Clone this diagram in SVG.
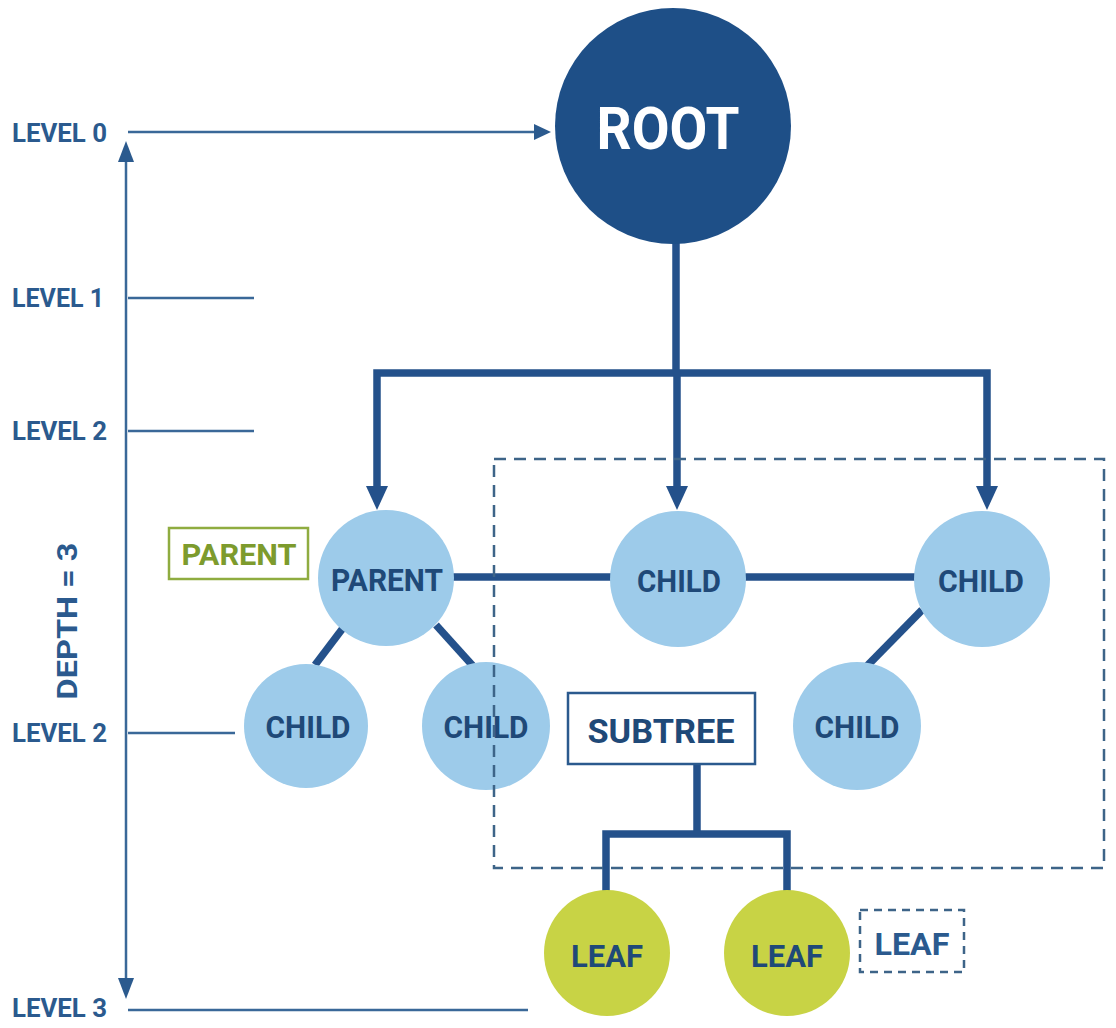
<svg xmlns="http://www.w3.org/2000/svg" width="1116" height="1028" viewBox="0 0 1116 1028">
<style>
  text { font-family: Roboto, "Liberation Sans", sans-serif; font-weight: bold; }
  .lvl { font-size: 25px; fill: #2b5a8e; }
  .lvline { stroke: #3a6898; stroke-width: 2.5; fill: none; }
  .conn { stroke: #24518b; stroke-width: 7.5; fill: none; }
  .light { fill: #9dcbea; }
  .leaf { fill: #c8d345; }
  .ntext { font-size: 32px; fill: #1f4978; text-anchor: middle; }
  .dash { stroke: #3d6488; stroke-width: 2.5; fill: none; stroke-dasharray: 12 8; }
</style>
<rect width="1116" height="1028" fill="#ffffff"/>

<g id="axis">
  <line class="lvline" x1="128" y1="132" x2="536" y2="132"/>
  <path d="M534,124 L551,132 L534,140 Z" fill="#2b5a8e"/>
  <line class="lvline" x1="126" y1="158" x2="126" y2="982"/>
  <path d="M118,162 L126,141 L134,162 Z" fill="#2b5a8e"/>
  <path d="M118,978 L126,999 L134,978 Z" fill="#2b5a8e"/>
  <line class="lvline" x1="128" y1="298" x2="254" y2="298"/>
  <line class="lvline" x1="128" y1="431" x2="254" y2="431"/>
  <line class="lvline" x1="128" y1="733" x2="235" y2="733"/>
  <line class="lvline" x1="128" y1="1010" x2="528" y2="1010"/>
  <text class="lvl" x="12" y="142" textLength="95" lengthAdjust="spacingAndGlyphs">LEVEL 0</text>
  <text class="lvl" x="12" y="307" textLength="92" lengthAdjust="spacingAndGlyphs">LEVEL 1</text>
  <text class="lvl" x="12" y="440" textLength="95" lengthAdjust="spacingAndGlyphs">LEVEL 2</text>
  <text class="lvl" x="12" y="742" textLength="95" lengthAdjust="spacingAndGlyphs">LEVEL 2</text>
  <text class="lvl" x="12" y="1017" textLength="95" lengthAdjust="spacingAndGlyphs">LEVEL 3</text>
  <text transform="translate(77,621) rotate(-90)" text-anchor="middle" font-size="27" fill="#2b5a8e" textLength="157" lengthAdjust="spacingAndGlyphs">DEPTH = 3</text>
</g>

<g id="connectors">
  <line class="conn" x1="676" y1="240" x2="676" y2="373"/>
  <polyline class="conn" points="377,490 377,373 987,373 987,490"/>
  <line class="conn" x1="677" y1="373" x2="677" y2="490"/>
  <path d="M366,486 L388,486 L377,510 Z" fill="#24518b"/>
  <path d="M666,486 L688,486 L677,510 Z" fill="#24518b"/>
  <path d="M976,486 L998,486 L987,510 Z" fill="#24518b"/>
  <line class="conn" x1="452" y1="577" x2="614" y2="577" stroke-width="8.5"/>
  <line class="conn" x1="743" y1="577" x2="916" y2="577" stroke-width="8.5"/>
  <line class="conn" x1="343" y1="628" x2="315" y2="665"/>
  <line class="conn" x1="436" y1="625" x2="473" y2="666"/>
  <line class="conn" x1="922" y1="610" x2="866" y2="667"/>
  <line class="conn" x1="697" y1="764" x2="697" y2="834"/>
  <polyline class="conn" points="606,892 606,834 787,834 787,892"/>
</g>

<g id="root">
  <circle cx="673" cy="126" r="118" fill="#1e4f87"/>
  <text x="668" y="149" text-anchor="middle" font-size="60" fill="#ffffff" textLength="143" lengthAdjust="spacingAndGlyphs">ROOT</text>
</g>

<g id="parent">
  <circle class="light" cx="386" cy="578" r="68"/>
  <text class="ntext" x="387" y="591" textLength="112" lengthAdjust="spacingAndGlyphs">PARENT</text>
</g>

<g id="child-mid">
  <circle class="light" cx="678" cy="579" r="68"/>
  <text class="ntext" x="679" y="592" textLength="84" lengthAdjust="spacingAndGlyphs">CHILD</text>
</g>

<g id="child-right">
  <circle class="light" cx="982" cy="579" r="68"/>
  <text class="ntext" x="981" y="592" textLength="86" lengthAdjust="spacingAndGlyphs">CHILD</text>
</g>

<g id="child-ll">
  <circle class="light" cx="306" cy="726" r="62"/>
  <text class="ntext" x="308" y="738" textLength="85" lengthAdjust="spacingAndGlyphs">CHILD</text>
</g>

<g id="child-lr">
  <circle class="light" cx="486" cy="726" r="64"/>
  <text class="ntext" x="486" y="738" textLength="85" lengthAdjust="spacingAndGlyphs">CHILD</text>
</g>

<g id="child-rl">
  <circle class="light" cx="857" cy="726" r="64"/>
  <text class="ntext" x="857" y="738" textLength="85" lengthAdjust="spacingAndGlyphs">CHILD</text>
</g>

<g id="subtree-region">
  <rect class="dash" x="494" y="459" width="610" height="409"/>
</g>

<g id="subtree">
  <rect x="568" y="693" width="187" height="71" fill="#ffffff" stroke="#2b5a8e" stroke-width="2.5"/>
  <text x="661" y="743" text-anchor="middle" font-size="34" fill="#1f4978" textLength="147" lengthAdjust="spacingAndGlyphs">SUBTREE</text>
</g>

<g id="leaf-1">
  <circle class="leaf" cx="607" cy="953" r="63"/>
  <text class="ntext" x="607" y="967" textLength="72" lengthAdjust="spacingAndGlyphs">LEAF</text>
</g>

<g id="leaf-2">
  <circle class="leaf" cx="787" cy="953" r="63"/>
  <text class="ntext" x="787" y="967" textLength="72" lengthAdjust="spacingAndGlyphs">LEAF</text>
</g>

<g id="leaf-label">
  <rect x="860" y="910" width="104" height="62" fill="none" stroke="#3d6488" stroke-width="2.5" stroke-dasharray="8 6"/>
  <text x="912" y="955" text-anchor="middle" font-size="32" fill="#2b5a8e" textLength="75" lengthAdjust="spacingAndGlyphs">LEAF</text>
</g>

<g id="parent-label">
  <rect x="169" y="528" width="139" height="51" fill="#ffffff" stroke="#8fac40" stroke-width="2.5"/>
  <text x="239" y="565" text-anchor="middle" font-size="30" fill="#7d9b2d" textLength="115" lengthAdjust="spacingAndGlyphs">PARENT</text>
</g>
</svg>
